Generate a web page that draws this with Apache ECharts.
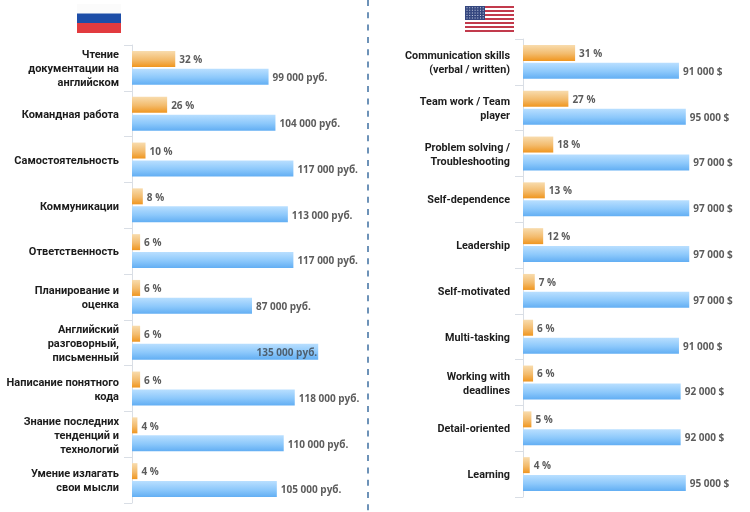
<!DOCTYPE html>
<html><head><meta charset="utf-8">
<style>html,body{margin:0;padding:0;background:#fff}#c{width:750px;height:512px}</style>
<script src="https://cdn.jsdelivr.net/npm/echarts@6/dist/echarts.min.js"></script>
</head><body><div id="c"></div>
<script>
const ruSkills = ['Чтение\nдокументации на\nанглийском','Командная работа','Самостоятельность','Коммуникации','Ответственность','Планирование и\nоценка','Английский\nразговорный,\nписьменный','Написание понятного\nкода','Знание последних\nтенденций и\nтехнологий','Умение излагать\nсвои мысли'];
const ruShare = [32,26,10,8,6,6,6,6,4,4];
const ruSalary = [99000,104000,117000,113000,117000,87000,135000,118000,110000,105000];
const usSkills = ['Communication skills\n(verbal / written)','Team work / Team\nplayer','Problem solving /\nTroubleshooting','Self-dependence','Leadership','Self-motivated','Multi-tasking','Working with\ndeadlines','Detail-oriented','Learning'];
const usShare = [31,27,18,13,12,7,6,6,5,4];
const usSalary = [91000,95000,97000,97000,97000,97000,91000,92000,92000,95000];

const FONT = '"Open Sans","Noto Sans",sans-serif';
const CATFONT = 'Roboto,"Open Sans",sans-serif';
const grad = (a,b,c) => ({type:'linear',x:0,y:0,x2:0,y2:1,colorStops:[{offset:0,color:a},{offset:.55,color:b},{offset:1,color:c}]});
const orange = grad('#f8dcae','#f3bb6c','#f0961f');
const blue = grad('#b9dfff','#8cc8fb','#62aef3');
const money = v => String(v).replace(/(\d)(\d{3})$/,'$1 $2');

function catAxis(gridIndex, data, fontSize){
  return {type:'category',gridIndex,data,inverse:true,
    axisLine:{show:true,lineStyle:{color:'#d9dee5',width:1}},
    axisTick:{show:true,length:8,lineStyle:{color:'#d9dee5',width:1}},
    axisLabel:{margin:13,align:'right',interval:0,
      formatter:v=>v.split('\n').map(l=>'{a|'+l+'}').join('\n'),
      rich:{a:{color:'#1c1c1c',fontFamily:CATFONT,fontWeight:'bold',fontSize,lineHeight:14,padding:[3,0,0,0],align:'right'}}}};
}
function valAxis(gridIndex,max){
  return {type:'value',gridIndex,min:0,max,show:false,splitLine:{show:false}};
}
function shareSeries(data,xAxisIndex,yAxisIndex,dy){
  return {type:'bar',data,xAxisIndex,yAxisIndex,barWidth:16,barGap:'12%',itemStyle:{color:orange},
    label:{show:true,position:'right',distance:4,offset:[0,dy],color:'#5c5c5c',fontFamily:FONT,fontWeight:'bold',fontSize:10,formatter:p=>p.value+' %'}};
}
function salarySeries(data,xAxisIndex,yAxisIndex,unit,dy){
  const top = Math.max(...data);
  const items = data.map(v => v===top && unit==='руб.'
    ? {value:v,label:{position:'insideRight',distance:1,color:'#4d5f70'}} : v);
  return {type:'bar',data:items,xAxisIndex,yAxisIndex,barWidth:16,barGap:'12%',itemStyle:{color:blue},
    label:{show:true,position:'right',distance:4,offset:[0,dy],color:'#5c5c5c',fontFamily:FONT,fontWeight:'bold',fontSize:10,formatter:p=>money(p.value)+' '+unit}};
}

const flagShapes = [];
const r = (x,y,w,h,fill) => flagShapes.push({type:'rect',shape:{x,y,width:w,height:h},style:{fill},silent:true});
r(77,4,44,9.5,'#fbfbfb'); r(77,13.5,44,9.5,'#1d4ea8'); r(77,23,44,10,'#e23b3f');
for(let i=0;i<13;i++) r(465,6+i*2,49,2,i%2?'#ffffff':'#c23a4c');
r(465,6,20,14,'#35477f');
for(let row=0;row<5;row++) for(let col=0;col<7;col++) r(466.5+col*2.7,7.2+row*2.6,1,1,'#c9d0e4');
flagShapes.push({type:'line',shape:{x1:368,y1:0,x2:368,y2:512},style:{stroke:'#6d92b8',lineWidth:2,lineDash:[6,6.3]},silent:true});

const chart = echarts.init(document.getElementById('c'),null,{renderer:'canvas'});
chart.setOption({
  animation:false,backgroundColor:'#ffffff',
  grid:[{left:132,top:45,width:200,height:458,outerBoundsMode:'none'},{left:523,top:39,width:200,height:458,outerBoundsMode:'none'}],
  yAxis:[catAxis(0,ruSkills,11),catAxis(1,usSkills,10.8)],
  xAxis:[valAxis(0,148),valAxis(0,145000),valAxis(1,119),valAxis(1,116700)],
  series:[shareSeries(ruShare,0,0,1.5),salarySeries(ruSalary,1,0,'руб.',1.5),shareSeries(usShare,2,1,1),salarySeries(usSalary,3,1,'$',1)],
  graphic:{elements:flagShapes}
});
</script></body></html>
